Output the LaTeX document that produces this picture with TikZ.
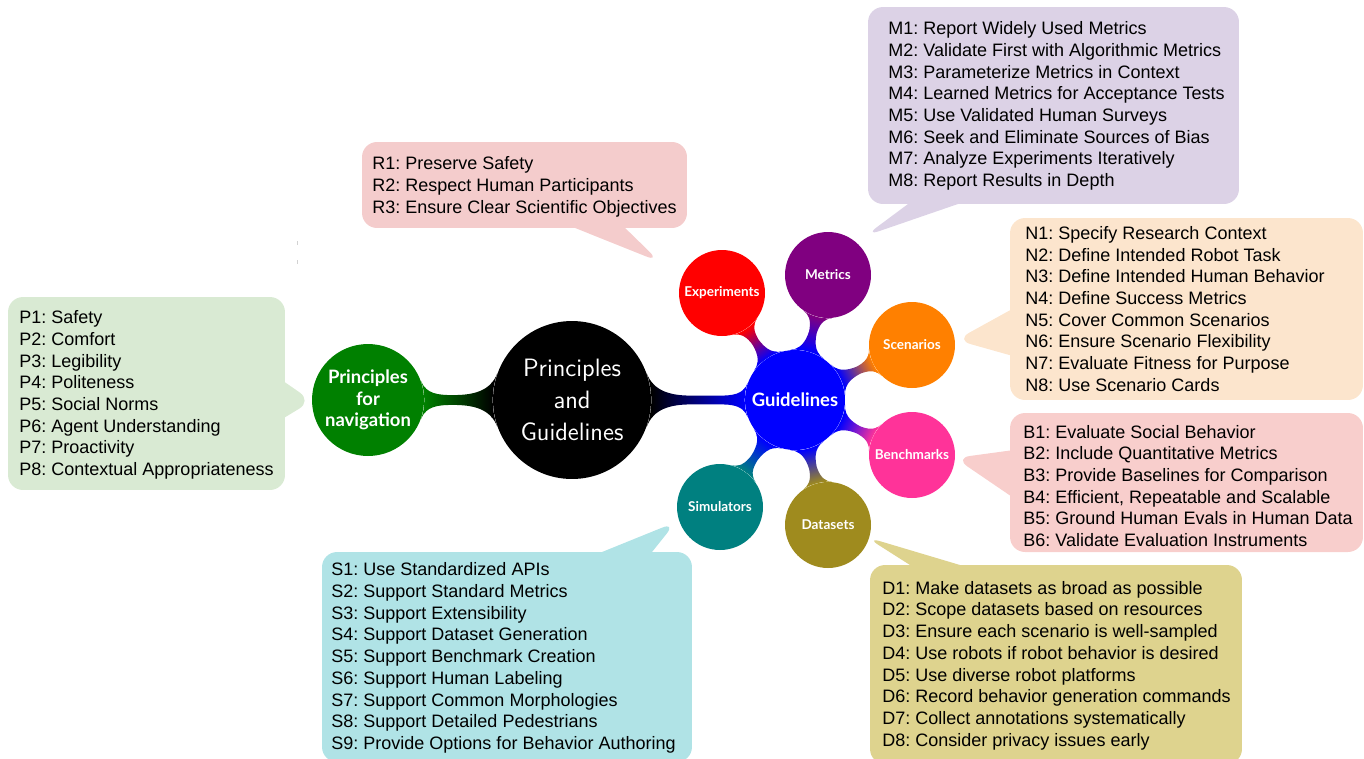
\documentclass[tikz,border=0pt]{standalone}
\usepackage{fontspec}
\setmainfont{Liberation Sans}
\newfontfamily\latofont{Lato}
\frenchspacing
\usetikzlibrary{mindmap,shapes.callouts,decorations,backgrounds}
\definecolor{cNav}{HTML}{008000}
\definecolor{cGuide}{HTML}{0000FF}
\definecolor{cExp}{HTML}{FF0000}
\definecolor{cMet}{HTML}{800080}
\definecolor{cSce}{HTML}{FF8000}
\definecolor{cBen}{HTML}{FF3399}
\definecolor{cDat}{HTML}{9F8B1E}
\definecolor{cSim}{HTML}{008080}
\definecolor{bP}{HTML}{D9EAD3}
\definecolor{bR}{HTML}{F4CCCC}
\definecolor{bM}{HTML}{DCD2E6}
\definecolor{bN}{HTML}{FCE5CD}
\definecolor{bB}{HTML}{F8CECC}
\definecolor{bD}{HTML}{DED38E}
\definecolor{bS}{HTML}{B0E3E6}
\begin{document}
\begin{tikzpicture}[x=0.02cm,y=-0.02cm,
  bubble/.style={circle, fill=#1, text=white, inner sep=0pt, align=center},
  kid/.style={bubble=#1, minimum size=1.72cm, font=\latofont\bfseries\fontsize{7.7}{9}\selectfont},
  callbox/.style={rectangle callout, rounded corners=0.3cm, fill=#1, draw=none, inner sep=0pt},
  items/.style={align=left, anchor=west, inner sep=0pt, font=\fontsize{10.25}{12.35}\selectfont},
  bar1/.style={line width=0.22cm},
  bar2/.style={line width=0.16cm}]
\useasboundingbox (0,0) rectangle (1364,758);

% concepts
\node[bubble=black, minimum size=3.16cm, font=\sffamily\fontsize{14.3}{18.2}\selectfont] (root) at (572,400) {Principles\\and\\Guidelines};
\node[bubble=cNav, minimum size=2.24cm, font=\latofont\bfseries\fontsize{10.5}{12.3}\selectfont] (nav) at (368,400) {Principles\\for\\navigation};
\node[bubble=cGuide, minimum size=2.0cm, font=\latofont\bfseries\fontsize{10.5}{12}\selectfont] (guide) at (795,400) {Guidelines};
\node[kid=cExp] (exp) at (722,293) {Experiments};
\node[kid=cMet] (met) at (828,275) {Metrics};
\node[kid=cSce] (sce) at (912,345) {Scenarios};
\node[kid=cBen] (ben) at (912,455) {Benchmarks};
\node[kid=cDat] (dat) at (828,525) {Datasets};
\node[kid=cSim] (sim) at (720,507) {Simulators};

\begin{scope}[on background layer]
% callout boxes
\node[callbox=bP, minimum width=5.54cm, minimum height=3.86cm, callout pointer width=0.7cm,
  callout absolute pointer={(312,401)}] (pbox) at (146.5,393.5) {};
\node[callbox=bR, minimum width=6.5cm, minimum height=1.72cm, callout pointer width=1.0cm,
  callout absolute pointer={(660,262)}] (rbox) at (524.5,185) {};
\node[callbox=bM, minimum width=7.42cm, minimum height=3.94cm, callout pointer width=1.0cm,
  callout absolute pointer={(865,236)}] (mbox) at (1053.5,105.5) {};
\node[callbox=bN, minimum width=7.06cm, minimum height=3.64cm, callout pointer width=0.9cm,
  callout absolute pointer={(956,340)}] (nbox) at (1186.5,309) {};
\node[callbox=bB, minimum width=7.06cm, minimum height=2.78cm, callout pointer width=0.9cm,
  callout absolute pointer={(955,458)}] (bbox) at (1186.5,482.5) {};
\node[callbox=bD, minimum width=7.44cm, minimum height=3.98cm, callout pointer width=1.0cm,
  callout absolute pointer={(866,537)}] (dbox) at (1056,664.5) {};
\node[callbox=bS, minimum width=7.4cm, minimum height=4.2cm, callout pointer width=1.0cm,
  callout absolute pointer={(676,522)}] (sbox) at (507,657) {};

% connection bars
\path[bar1, decoration={start radius=1.58cm, end radius=1.12cm}] (root) to[circle connection bar switch color=from (black) to (cNav)] (nav);
\path[bar1, decoration={start radius=1.58cm, end radius=1.0cm}] (root) to[circle connection bar switch color=from (black) to (cGuide)] (guide);
\begin{scope}[bar2, decoration={start radius=1.0cm, end radius=0.86cm}]
\path (guide) to[circle connection bar switch color=from (cGuide) to (cExp)] (exp);
\path (guide) to[circle connection bar switch color=from (cGuide) to (cMet)] (met);
\path (guide) to[circle connection bar switch color=from (cGuide) to (cSce)] (sce);
\path (guide) to[circle connection bar switch color=from (cGuide) to (cBen)] (ben);
\path (guide) to[circle connection bar switch color=from (cGuide) to (cDat)] (dat);
\path (guide) to[circle connection bar switch color=from (cGuide) to (cSim)] (sim);
\end{scope}
\end{scope}

% callout texts
\node[items] (ptext) at (19,395) {P1: Safety\\P2: Comfort\\P3: Legibility\\P4: Politeness\\P5: Social Norms\\P6: Agent Understanding\\P7: Proactivity\\P8: Contextual Appropriateness};
\node[items] (rtext) at (372,187) {R1: Preserve Safety\\R2: Respect Human Participants\\R3: Ensure Clear Scientific Objectives};
\node[items] (mtext) at (888,106) {M1: Report Widely Used Metrics\\M2: Validate First with Algorithmic Metrics\\M3: Parameterize Metrics in Context\\M4: Learned Metrics for Acceptance Tests\\M5: Use Validated Human Surveys\\M6: Seek and Eliminate Sources of Bias\\M7: Analyze Experiments Iteratively\\M8: Report Results in Depth};
\node[items] (ntext) at (1025,309) {N1: Specify Research Context\\N2: Define Intended Robot Task\\N3: Define Intended Human Behavior\\N4: Define Success Metrics\\N5: Cover Common Scenarios\\N6: Ensure Scenario Flexibility\\N7: Evaluate Fitness for Purpose\\N8: Use Scenario Cards};
\node[items] (btext) at (1023,486) {B1: Evaluate Social Behavior\\B2: Include Quantitative Metrics\\B3: Provide Baselines for Comparison\\B4: Efficient, Repeatable and Scalable\\B5: Ground Human Evals in Human Data\\B6: Validate Evaluation Instruments};
\node[items] (dtext) at (882,665.5) {D1: Make datasets as broad as possible\\D2: Scope datasets based on resources\\D3: Ensure each scenario is well-sampled\\D4: Use robots if robot behavior is desired\\D5: Use diverse robot platforms\\D6: Record behavior generation commands\\D7: Collect annotations systematically\\D8: Consider privacy issues early};
\node[items] (stext) at (331,658) {S1: Use Standardized APIs\\S2: Support Standard Metrics\\S3: Support Extensibility\\S4: Support Dataset Generation\\S5: Support Benchmark Creation\\S6: Support Human Labeling\\S7: Support Common Morphologies\\S8: Support Detailed Pedestrians\\S9: Provide Options for Behavior Authoring};

% faint marks
\draw[gray!35, line width=0.4pt] (297,241) -- (297,245) (297,260) -- (297,264);
\end{tikzpicture}
\end{document}
